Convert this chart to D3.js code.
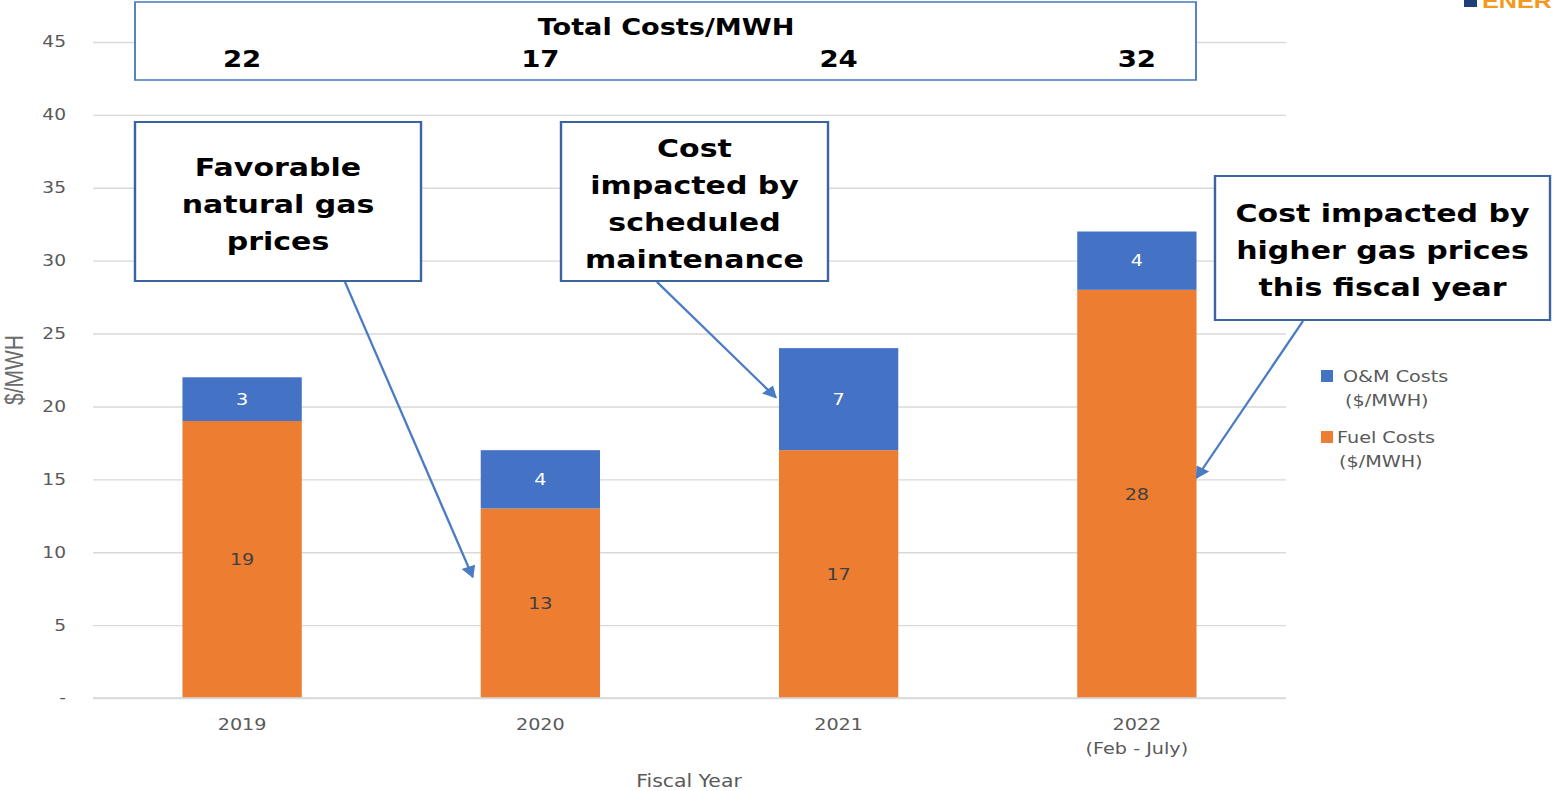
<!DOCTYPE html>
<html>
<head>
<meta charset="utf-8">
<script src="https://cdn.jsdelivr.net/npm/d3@7"></script>
<style>
  body { margin: 0; background: #fff; }
  svg { display: block; }
  text { font-family: "DejaVu Sans", Verdana, sans-serif; }
</style>
</head>
<body>
<div id="chart"></div>
<script>
// data
var years = ["2019", "2020", "2021", "2022"];
var yearNotes = ["", "", "", "(Feb - July)"];
var fuelCosts = [19, 13, 17, 28];
var omCosts = [3, 4, 7, 4];
var totalCosts = [22, 17, 24, 32];
var yTicks = [0, 5, 10, 15, 20, 25, 30, 35, 40, 45];
var seriesNames = ["Fuel Costs", "O&M Costs"];
var legendLines = [["O&M Costs", "($/MWH)"], ["Fuel Costs", "($/MWH)"]];
var noteTexts = [
  ["Favorable", "natural gas", "prices"],
  ["Cost", "impacted by", "scheduled", "maintenance"],
  ["Cost impacted by", "higher gas prices", "this fiscal year"]
];
var noteTargets = [
  { year: "2020", value: 8.3 },
  { year: "2021", value: 20.6 },
  { year: "2022", value: 15.1 }
];

// the source picture is stretched sideways, so draw in a narrower box and stretch it back
var S = 1.2,
    W = 1554, H = 791;
function X(px) { return px / S; }

var margin = {top: 42, right: 268, bottom: 93, left: 93};

var svg = d3.select("#chart").append("svg")
    .attr("width", W)
    .attr("height", H)
    .attr("viewBox", "0 0 " + X(W) + " " + H)
    .attr("preserveAspectRatio", "none");

var x = d3.scaleBand()
    .domain(years)
    .range([X(margin.left), X(W - margin.right)])
    .paddingInner(0.6)
    .paddingOuter(0.3);

var y = d3.scaleLinear()
    .domain([0, 45])
    .range([H - margin.bottom, margin.top]);

var color = d3.scaleOrdinal()
    .domain(seriesNames)
    .range(["#ED7D31", "#4472C4"]);

// grid
var yAxis = d3.axisLeft(y)
    .tickValues(yTicks)
    .tickSize(-(X(W - margin.right) - X(margin.left)))
    .tickPadding(X(27))
    .tickFormat(function(d) { return d === 0 ? "-" : d; });

var gy = svg.append("g")
    .attr("transform", "translate(" + X(margin.left) + ",0)")
    .call(yAxis);
gy.select(".domain").remove();
gy.selectAll(".tick line").attr("stroke", "#d9d9d9").attr("stroke-width", 1.4);
gy.selectAll(".tick text")
    .attr("fill", "#595959")
    .style("font-size", "15.5px")
    .style("font-family", "'DejaVu Sans', Verdana, sans-serif");

// stacked bars
var table = years.map(function(yr, i) {
  return { year: yr, "Fuel Costs": fuelCosts[i], "O&M Costs": omCosts[i] };
});
var stacked = d3.stack().keys(seriesNames)(table);

var layer = svg.selectAll(".layer")
    .data(stacked)
  .enter().append("g")
    .attr("class", "layer")
    .attr("fill", function(d) { return color(d.key); });

layer.selectAll("rect")
    .data(function(d) { return d; })
  .enter().append("rect")
    .attr("x", function(d) { return x(d.data.year); })
    .attr("width", x.bandwidth())
    .attr("y", function(d) { return y(d[1]); })
    .attr("height", function(d) { return y(d[0]) - y(d[1]); });

layer.selectAll("text")
    .data(function(d) { return d.map(function(p) { p.key = d.key; return p; }); })
  .enter().append("text")
    .attr("x", function(d) { return x(d.data.year) + x.bandwidth() / 2; })
    .attr("y", function(d) { return (y(d[0]) + y(d[1])) / 2; })
    .attr("dy", "0.36em")
    .attr("text-anchor", "middle")
    .attr("fill", function(d) { return d.key === "O&M Costs" ? "#ffffff" : "#404040"; })
    .style("font-size", "16px")
    .text(function(d) { return d[1] - d[0]; });

// baseline
svg.append("line")
    .attr("x1", X(margin.left)).attr("x2", X(W - margin.right))
    .attr("y1", y(0)).attr("y2", y(0))
    .attr("stroke", "#d9d9d9").attr("stroke-width", 1.4);

// x labels
var xl = svg.selectAll(".xlab")
    .data(years)
  .enter().append("text")
    .attr("class", "xlab")
    .attr("x", function(d) { return x(d) + x.bandwidth() / 2; })
    .attr("y", y(0) + 32)
    .attr("text-anchor", "middle")
    .attr("fill", "#595959")
    .style("font-size", "16px");
xl.append("tspan").text(function(d) { return d; });
xl.append("tspan")
    .attr("x", function(d) { return x(d) + x.bandwidth() / 2; })
    .attr("dy", 24)
    .text(function(d, i) { return yearNotes[i]; });

// axis titles
svg.append("text")
    .attr("x", X(689))
    .attr("y", 787)
    .attr("text-anchor", "middle")
    .attr("fill", "#595959")
    .style("font-size", "17px")
    .text("Fiscal Year");

svg.append("text")
    .attr("transform", "translate(" + X(23) + "," + 370 + ") rotate(-90)")
    .attr("text-anchor", "middle")
    .attr("fill", "#6b6b6b")
    .style("font-family", "'Liberation Sans', Arial, sans-serif")
    .style("font-size", "21px")
    .text("$/MWH");

// legend
var legendColors = [color("O&M Costs"), color("Fuel Costs")];
var legendPos = [{sx: 1321, tx: 1343, y: 376}, {sx: 1321, tx: 1337, y: 437}];
legendLines.forEach(function(lines, i) {
  var p = legendPos[i];
  svg.append("rect")
      .attr("x", X(p.sx)).attr("y", p.y - 6)
      .attr("width", X(12)).attr("height", 12)
      .attr("fill", legendColors[i]);
  var t = svg.append("text")
      .attr("fill", "#595959")
      .style("font-size", "16px");
  t.append("tspan").attr("x", X(p.tx)).attr("y", p.y + 6).text(lines[0]);
  t.append("tspan").attr("x", X(p.tx + 2)).attr("y", p.y + 30).text(lines[1]);
});

// total costs box
svg.append("rect")
    .attr("x", X(135)).attr("y", 2)
    .attr("width", X(1196 - 135)).attr("height", 78)
    .attr("fill", "#fff")
    .attr("stroke", "#4f7fc4").attr("stroke-width", 1.6);

svg.append("text")
    .attr("x", X(666)).attr("y", 35)
    .attr("text-anchor", "middle")
    .attr("fill", "#000")
    .style("font-weight", "bold")
    .style("font-size", "22.6px")
    .text("Total Costs/MWH");

svg.selectAll(".total")
    .data(totalCosts)
  .enter().append("text")
    .attr("class", "total")
    .attr("x", function(d, i) { return x(years[i]) + x.bandwidth() / 2; })
    .attr("y", 67)
    .attr("text-anchor", "middle")
    .attr("fill", "#000")
    .style("font-weight", "bold")
    .style("font-size", "23px")
    .text(function(d) { return d; });

// callouts
var defs = svg.append("defs");
defs.append("marker")
    .attr("id", "head")
    .attr("viewBox", "0 0 10 10")
    .attr("refX", 9).attr("refY", 5)
    .attr("markerWidth", 7).attr("markerHeight", 6)
    .attr("orient", "auto")
  .append("path")
    .attr("d", "M0,0 L10,5 L0,10 z")
    .attr("fill", "#4a7bc4");

var noteBoxes = [
  {x: 135, y: 122, w: 286, h: 159, top: 176, ax: 345, side: -8},
  {x: 561, y: 122, w: 267, h: 159, top: 157, ax: 657, side: -3},
  {x: 1215, y: 176, w: 335, h: 144, top: 222, ax: 1303, side: 0}
];

noteBoxes.forEach(function(b, i) {
  var tgt = noteTargets[i];
  var tx = i === 2 ? x(tgt.year) + x.bandwidth() : x(tgt.year) + X(b.side);
  svg.append("line")
      .attr("x1", X(b.ax)).attr("y1", b.y + b.h + 1)
      .attr("x2", tx).attr("y2", y(tgt.value))
      .attr("stroke", "#4a7bc4").attr("stroke-width", 2)
      .attr("marker-end", "url(#head)");
  svg.append("rect")
      .attr("x", X(b.x)).attr("y", b.y)
      .attr("width", X(b.w)).attr("height", b.h)
      .attr("fill", "#fff")
      .attr("stroke", "#3a64a0").attr("stroke-width", 2);
  var t = svg.append("text")
      .attr("text-anchor", "middle")
      .attr("fill", "#000")
      .style("font-weight", "bold")
      .style("font-size", "25px");
  noteTexts[i].forEach(function(line, j) {
    t.append("tspan")
        .attr("x", X(b.x + b.w / 2))
        .attr("y", b.top + j * 37)
        .text(line);
  });
});

// logo corner
svg.append("rect")
    .attr("x", X(1464)).attr("y", -6)
    .attr("width", X(13)).attr("height", 13)
    .attr("fill", "#1f3f7a");
svg.append("text")
    .attr("x", X(1482)).attr("y", 8)
    .attr("fill", "#f39a1e")
    .style("font-family", "'Liberation Sans', Arial, sans-serif")
    .style("font-weight", "bold")
    .style("font-size", "21px")
    .text("ENER");
</script>
</body>
</html>
